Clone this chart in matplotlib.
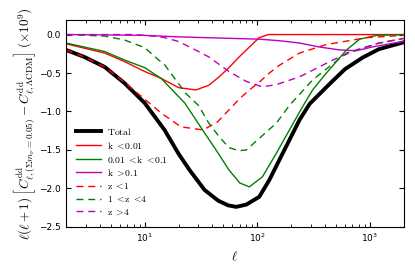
import matplotlib
matplotlib.use("Agg")
import matplotlib.pyplot as plt

plt.rcParams["mathtext.fontset"] = "cm"
plt.rcParams["font.family"] = "DejaVu Sans"

# values (ell, value x 1e9)
ell_total = [2, 2.9, 4.4, 6.6, 10, 15, 20, 25, 34, 45, 55, 65, 80, 104, 128,
             157, 193, 237, 292, 440, 600, 860, 1200, 2000]
val_total = [-0.20, -0.29, -0.42, -0.63, -0.89, -1.24, -1.55, -1.76, -2.02,
             -2.16, -2.22, -2.24, -2.21, -2.11, -1.89, -1.63, -1.37, -1.11,
             -0.90, -0.64, -0.45, -0.30, -0.19, -0.10]

ell_klow = [2, 4.4, 6.6, 10, 14, 20, 28.5, 37, 45, 56, 68, 80, 104, 125, 2000]
val_klow = [-0.12, -0.24, -0.35, -0.48, -0.57, -0.69, -0.72, -0.66, -0.56,
            -0.43, -0.30, -0.20, -0.04, 0.0, 0.0]

ell_kmid = [2, 4.4, 6.6, 10, 14, 22.7, 33, 43, 56, 70, 85, 111, 148, 193,
            252, 310, 400, 620, 810, 1150, 2000]
val_kmid = [-0.11, -0.22, -0.33, -0.43, -0.57, -0.89, -1.25, -1.50, -1.76,
            -1.93, -1.98, -1.85, -1.54, -1.24, -0.94, -0.72, -0.52, -0.20,
            -0.06, -0.01, 0.0]

ell_khigh = [2, 10, 20, 60, 104, 157, 237, 350, 540, 760, 1060, 1500, 2000]
val_khigh = [0.0, -0.01, -0.03, -0.05, -0.06, -0.08, -0.11, -0.16, -0.20,
             -0.21, -0.16, -0.12, -0.09]

ell_zlow = [2, 2.9, 4.4, 6.6, 10, 14, 21, 33, 44, 56, 69, 85, 104, 128, 157,
            237, 410, 940, 2000]
val_zlow = [-0.20, -0.29, -0.42, -0.62, -0.84, -1.02, -1.20, -1.24, -1.14,
            -0.98, -0.84, -0.72, -0.62, -0.50, -0.40, -0.24, -0.13, -0.04,
            -0.01]

ell_zmid = [2, 4.4, 6.6, 10, 13.3, 15, 23, 30, 37, 46, 56, 69, 80, 104, 148,
            193, 310, 620, 1220, 2000]
val_zmid = [0.0, -0.02, -0.07, -0.17, -0.33, -0.39, -0.76, -0.92, -1.15,
            -1.33, -1.47, -1.51, -1.50, -1.35, -1.15, -0.92, -0.59, -0.24,
            -0.11, -0.05]

ell_zhigh = [2, 8, 12, 15, 20, 30, 37, 56, 80, 111, 148, 237, 470, 760,
             1200, 2000]
val_zhigh = [0.0, 0.0, -0.02, -0.04, -0.09, -0.22, -0.29, -0.48, -0.61,
             -0.68, -0.65, -0.55, -0.33, -0.20, -0.11, -0.05]

dash = (5, 3.5)

fig = plt.figure(figsize=(4.15, 2.77), dpi=100)
ax = fig.add_axes([0.159, 0.181, 0.814, 0.747])

ax.plot(ell_total, val_total, color="k", lw=2.8, label=r"$\mathrm{Total}$")
ax.plot(ell_klow, val_klow, color="r", lw=1.0, label=r"$\mathrm{k}\ <\!0.01$")
ax.plot(ell_kmid, val_kmid, color="g", lw=1.0,
        label=r"$0.01\ <\!\mathrm{k}\ <\!0.1$")
ax.plot(ell_khigh, val_khigh, color="m", lw=1.0, label=r"$\mathrm{k}\ >\!0.1$")
ax.plot(ell_zlow, val_zlow, color="r", lw=1.0, dashes=dash,
        label=r"$\mathrm{z}\ <\!1$")
ax.plot(ell_zmid, val_zmid, color="g", lw=1.0, dashes=dash,
        label=r"$1\ <\!\mathrm{z}\ <\!4$")
ax.plot(ell_zhigh, val_zhigh, color="m", lw=1.0, dashes=dash,
        label=r"$\mathrm{z}\ >\!4$")

ax.set_xscale("log")
ax.set_xlim(2, 2000)
ax.set_ylim(-2.5, 0.19)
ax.set_yticks([0.0, -0.5, -1.0, -1.5, -2.0, -2.5])
ax.tick_params(which="both", direction="in", top=True, right=True,
               labelsize=6.5)
ax.tick_params(which="major", length=3.5)
ax.tick_params(which="minor", length=2)

ax.set_xlabel(r"$\ell$", fontsize=9)
ax.set_ylabel(r"$\ell(\ell+1)\;\left[C^{\rm dd}_{\ell,(\Sigma m_\nu=0.05)}"
              r" - C^{\rm dd}_{\ell,\Lambda{\rm CDM}}\right]\;(\times 10^9)$",
              fontsize=9.5, labelpad=1)

ax.legend(loc="lower left", frameon=False, fontsize=7, labelspacing=0.3,
          handlelength=2.6, handletextpad=0.6, borderaxespad=0.6)

fig.savefig("out.png", dpi=100)
